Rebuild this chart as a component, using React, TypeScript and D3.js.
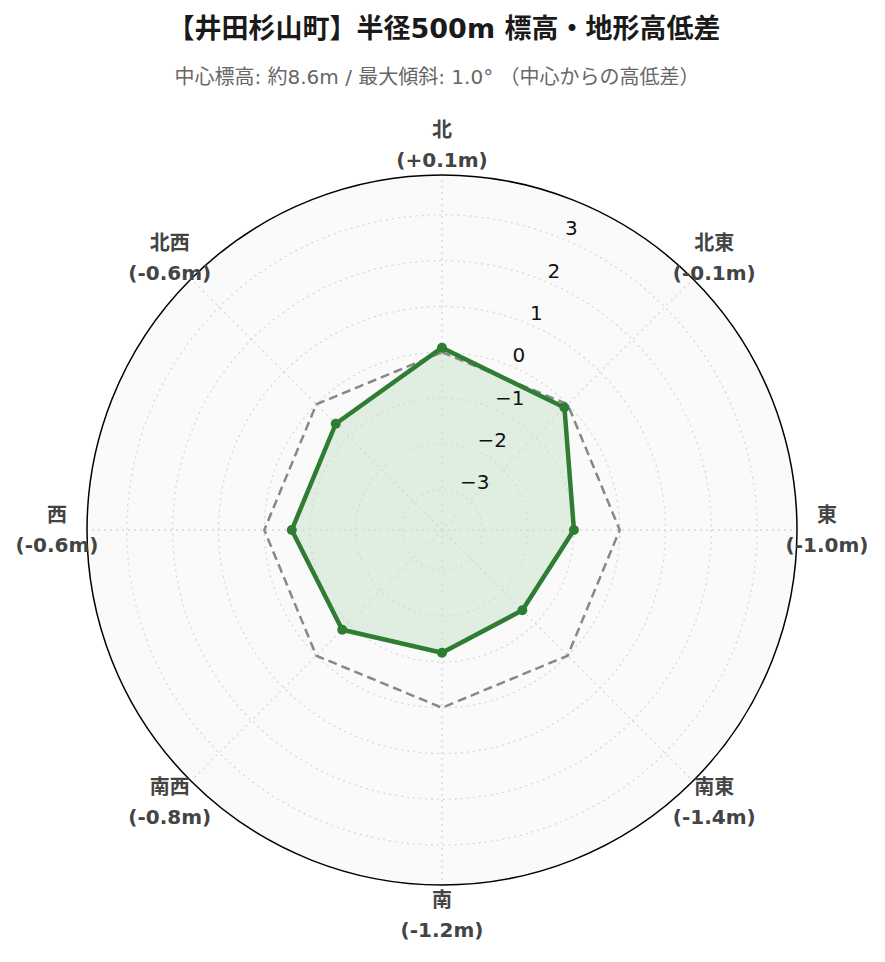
import * as d3 from "d3";

const directions = ["北", "北東", "東", "南東", "南", "南西", "西", "北西"];
const elevationDiffs = [0.1, -0.1, -1.0, -1.4, -1.2, -0.8, -0.6, -0.6];
const radialTicks = [-3, -2, -1, 0, 1, 2, 3];
const radialDomain = [-3.88, 3.87];

const titleText = "【井田杉山町】半径500m 標高・地形高低差";
const subtitleText = "中心標高: 約8.6m / 最大傾斜: 1.0° （中心からの高低差）";

const width = 885;
const height = 962;
const cx = 442;
const cy = 530;
const outerR = 355;
const green = "#2e7d32";
const font = "'DejaVu Sans', 'Noto Sans CJK JP', sans-serif";

const fmtDiff = (v: number) => `(${v > 0 ? "+" : ""}${v.toFixed(1)}m)`;
const fmtTick = (v: number) => (v < 0 ? `\u2212${Math.abs(v)}` : `${v}`);

const App = () => {
  const rScale = d3.scaleLinear().domain(radialDomain).range([0, outerR]);
  const angle = (i: number) => (i * 2 * Math.PI) / directions.length;

  const dataLine = d3
    .lineRadial<number>()
    .angle((_, i) => angle(i))
    .radius((d) => rScale(d))
    .curve(d3.curveLinearClosed);

  const zeroLine = d3
    .lineRadial<string>()
    .angle((_, i) => angle(i))
    .radius(() => rScale(0))
    .curve(d3.curveLinearClosed);

  const tickAngle = Math.PI / 8; // axis labels along 22.5°
  const labelR = outerR + 30;

  return (
    <svg
      width={width}
      height={height}
      style={{ position: "absolute", left: 0, top: 0, background: "#fff" }}
    >
      <text
        x={444}
        y={28}
        textAnchor="middle"
        dominantBaseline="central"
        fontFamily={font}
        fontWeight="bold"
        fontSize={27}
        fill="#1a1a1a"
      >
        {titleText}
      </text>
      <text
        x={437}
        y={77}
        textAnchor="middle"
        dominantBaseline="central"
        fontFamily={font}
        fontSize={20}
        fill="#666"
      >
        {subtitleText}
      </text>

      <g transform={`translate(${cx},${cy})`}>
        <circle r={outerR} fill="#fafafa" />

        <path
          d={dataLine(elevationDiffs) ?? ""}
          fill="#4caf50"
          fillOpacity={0.15}
          stroke="none"
        />

        {/* radial grid */}
        {radialTicks.map((t) => (
          <circle
            key={t}
            r={rScale(t)}
            fill="none"
            stroke="#d8d8d8"
            strokeWidth={1.3}
            strokeDasharray="2,4"
          />
        ))}
        {/* angular grid */}
        {directions.map((d, i) => (
          <line
            key={d}
            x1={0}
            y1={0}
            x2={outerR * Math.sin(angle(i))}
            y2={-outerR * Math.cos(angle(i))}
            stroke="#d8d8d8"
            strokeWidth={1.3}
            strokeDasharray="2,4"
          />
        ))}

        <path
          d={zeroLine(directions) ?? ""}
          fill="none"
          stroke="#888"
          strokeWidth={2.5}
          strokeDasharray="9,5"
        />
        <path
          d={dataLine(elevationDiffs) ?? ""}
          fill="none"
          stroke={green}
          strokeWidth={4.5}
          strokeLinejoin="round"
        />
        {elevationDiffs.map((v, i) => (
          <circle
            key={i}
            cx={rScale(v) * Math.sin(angle(i))}
            cy={-rScale(v) * Math.cos(angle(i))}
            r={5}
            fill={green}
          />
        ))}

        <circle r={outerR} fill="none" stroke="#000" strokeWidth={1.5} />

        {/* radial tick labels */}
        {radialTicks.map((t) => (
          <text
            key={t}
            x={rScale(t) * Math.sin(tickAngle) + 2.5}
            y={-rScale(t) * Math.cos(tickAngle) - 10.5}
            dominantBaseline="central"
            fontFamily={font}
            fontSize={20}
            fill="#111"
          >
            {fmtTick(t)}
          </text>
        ))}

        {/* direction labels */}
        {directions.map((d, i) => {
          const x = labelR * Math.sin(angle(i));
          const y = -labelR * Math.cos(angle(i));
          return (
            <text
              key={d}
              x={x}
              y={y}
              textAnchor="middle"
              fontFamily={font}
              fontWeight="bold"
              fontSize={20}
              fill="#444"
            >
              <tspan x={x} y={y - 15} dominantBaseline="central">
                {d}
              </tspan>
              <tspan x={x} y={y + 15} dominantBaseline="central">
                {fmtDiff(elevationDiffs[i])}
              </tspan>
            </text>
          );
        })}
      </g>
    </svg>
  );
};

export default App;
